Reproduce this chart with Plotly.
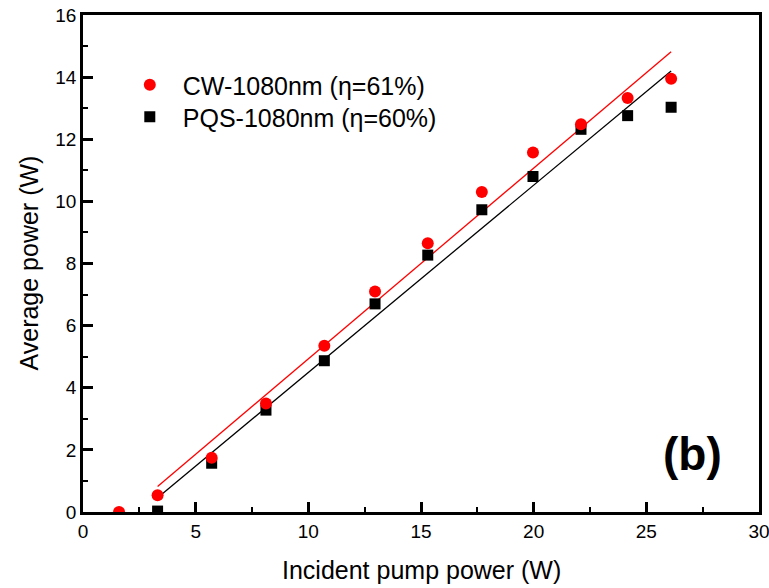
import plotly.graph_objects as go

# Data
cw_x = [1.6, 3.31, 5.71, 8.12, 10.71, 12.96, 15.3, 17.7, 19.97, 22.1, 24.17, 26.1]
cw_y = [0.0, 0.54, 1.75, 3.49, 5.35, 7.1, 8.65, 10.3, 11.57, 12.48, 13.33, 13.95]
pqs_x = [3.31, 5.71, 8.12, 10.71, 12.96, 15.3, 17.7, 19.97, 22.1, 24.17, 26.1]
pqs_y = [0.03, 1.57, 3.28, 4.87, 6.7, 8.27, 9.73, 10.8, 12.32, 12.76, 13.03]
fit_x = [3.31, 26.1]
cw_fit_y = [0.82, 14.82]
pqs_fit_y = [0.46, 14.2]

cw_name = "CW-1080nm (η=61%)"
pqs_name = "PQS-1080nm (η=60%)"

FONT = "Liberation Sans, Arial, sans-serif"

fig = go.Figure()
fig.add_trace(go.Scatter(x=fit_x, y=cw_fit_y, mode="lines",
                         line=dict(color="#ff0000", width=1.3), showlegend=False, hoverinfo="skip"))
fig.add_trace(go.Scatter(x=fit_x, y=pqs_fit_y, mode="lines",
                         line=dict(color="#000000", width=1.3), showlegend=False, hoverinfo="skip"))
fig.add_trace(go.Scatter(x=pqs_x, y=pqs_y, mode="markers", name=pqs_name, legend="legend2",
                         marker=dict(symbol="square", size=11, color="#000000")))
fig.add_trace(go.Scatter(x=cw_x, y=cw_y, mode="markers", name=cw_name, legend="legend",
                         marker=dict(symbol="circle", size=12, color="#ff0000")))

axis_common = dict(
    showline=True, linecolor="black", linewidth=2.5, mirror=True,
    ticks="inside", ticklen=10, tickwidth=2.5, tickcolor="black",
    showgrid=False, zeroline=False, automargin=False, ticklabeloverflow="allow",
    tickfont=dict(family=FONT, size=19, color="black"),
)

fig.update_xaxes(range=[0, 30], dtick=5, tick0=0,
                 minor=dict(ticks="inside", ticklen=5, tickwidth=2, tickcolor="black", dtick=2.5, tick0=0),
                 **axis_common)
fig.update_yaxes(range=[0, 16], dtick=2, tick0=0,
                 minor=dict(ticks="inside", ticklen=5, tickwidth=2, tickcolor="black", dtick=1, tick0=0),
                 **axis_common)

fig.add_annotation(text="Incident pump power (W)", xref="paper", yref="paper",
                   x=0.5, y=0, yanchor="middle", yshift=-58, showarrow=False,
                   font=dict(family=FONT, size=25, color="black"))
fig.add_annotation(text="Average power (W)", xref="paper", yref="paper",
                   x=0, y=0.5, xanchor="center", xshift=-55, textangle=-90, showarrow=False,
                   font=dict(family=FONT, size=25, color="black"))
fig.add_annotation(text="<b>(b)</b>", xref="paper", yref="paper",
                   x=(692 - 83) / 676, y=(512 - 454) / 497, xanchor="center", yanchor="middle",
                   showarrow=False, font=dict(family=FONT, size=46, color="black"))

legend_common = dict(xanchor="left", yanchor="top", bgcolor="rgba(0,0,0,0)",
                     font=dict(family=FONT, size=25, color="black"), itemwidth=56)

fig.update_layout(
    width=769, height=588,
    margin=dict(l=83, r=10, t=15, b=76),
    paper_bgcolor="white", plot_bgcolor="white",
    legend=dict(x=0.050, y=0.9054, **legend_common),
    legend2=dict(x=0.050, y=0.841, **legend_common),
    showlegend=True,
)

fig.write_html("out.html")
